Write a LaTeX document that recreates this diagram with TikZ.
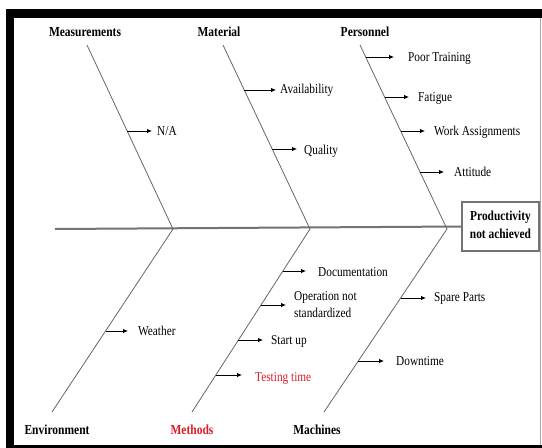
\documentclass[tikz,border=0pt]{standalone}
\usepackage{graphicx}
\usepackage{fontspec}
\setmainfont{Liberation Serif}
\usetikzlibrary{arrows.meta,calc}
\definecolor{myred}{RGB}{220,30,40}
\newcommand{\vs}[1]{\scalebox{1}[1.2]{#1}}
\tikzset{
  lbl/.style={inner sep=0pt, font=\fontsize{11.3}{14}\selectfont},
  cat/.style={inner sep=0pt, font=\fontsize{11.5}{14}\selectfont\bfseries},
  bone/.style={draw=black!60, line width=0.8pt},
  spine/.style={draw=black!55, line width=2pt},
  arr/.style={draw=black, line width=0.8pt, -{Latex[length=5pt,width=4.5pt]}},
}
\begin{document}
\begin{tikzpicture}[x=1pt,y=-1pt]
\useasboundingbox (0,0) rectangle (542,448);
% frame
\fill[black] (6,9) rectangle (542,448);
\fill[white] (14,18) rectangle (542,445);
\draw[black!35, line width=1pt] (540,18) -- (540,445);

% head
\node[draw=black!55, line width=1.2pt, minimum width=77pt, minimum height=49pt, inner sep=0pt,
      font=\fontsize{11.4}{14}\selectfont\bfseries, align=center] (head) at (500.5,226.5)
      {\vs{\begin{tabular}{@{}c@{}}Productivity\\[1pt]not achieved\end{tabular}}};

% spine
\coordinate (tail) at (55,229);
\draw[spine] (tail) -- (head.west);

% joints
\coordinate (J1) at (173,229);
\coordinate (J2) at (310,229);
\coordinate (J3) at (447,229);

% category labels
\node[cat] (meas) at (85,32) {\vs{Measurements}};
\node[cat] (mat) at (219,32) {\vs{Material}};
\node[cat] (pers) at (365,32) {\vs{Personnel}};
\node[cat] (env) at (57,430) {\vs{Environment}};
\node[cat, text=myred] (meth) at (192,430) {\vs{Methods}};
\node[cat] (mach) at (317,430) {\vs{Machines}};

% bone ends
\coordinate (M0) at (87,45);
\coordinate (A0) at (223,45);
\coordinate (P0) at (360,45);
\coordinate (E0) at (52,412);
\coordinate (T0) at (192,412);
\coordinate (C0) at (324,412);

\draw[bone] (M0) -- (J1);
\draw[bone] (A0) -- (J2);
\draw[bone] (P0) -- (J3);
\draw[bone] (E0) -- (J1);
\draw[bone] (T0) -- (J2);
\draw[bone] (C0) -- (J3);

% cause nodes
\node[lbl, anchor=west] (na) at (157,131) {\vs{N/A}};
\node[lbl, anchor=west] (avail) at (280,90) {\vs{Availability}};
\node[lbl, anchor=west] (qual) at (304,151) {\vs{Quality}};
\node[lbl, anchor=west] (poor) at (408,58) {\vs{Poor Training}};
\node[lbl, anchor=west] (fat) at (418,98) {\vs{Fatigue}};
\node[lbl, anchor=west] (work) at (434,132) {\vs{Work Assignments}};
\node[lbl, anchor=west] (att) at (454,172) {\vs{Attitude}};
\node[lbl, anchor=west] (weat) at (138,331) {\vs{Weather}};
\node[lbl, anchor=west] (doc) at (318,272) {\vs{Documentation}};
\node[lbl, anchor=west] (oper) at (294,306) {\vs{\begin{tabular}{@{}l@{}}Operation not\\standardized\end{tabular}}};
\node[lbl, anchor=west] (start) at (271,341) {\vs{Start up}};
\node[lbl, anchor=west, text=myred] (test) at (255,378) {\vs{Testing time}};
\node[lbl, anchor=west] (spare) at (434,298) {\vs{Spare Parts}};
\node[lbl, anchor=west] (down) at (396,361) {\vs{Downtime}};

% arrow starts on bones
\coordinate (cna) at (127.2,131);
\coordinate (cavail) at (244.3,90);
\coordinate (cqual) at (272.2,149);
\coordinate (cpoor) at (365.7,57);
\coordinate (cfat) at (384.6,97);
\coordinate (cwork) at (400.7,131);
\coordinate (catt) at (420,172);
\coordinate (cweat) at (105.6,331);
\coordinate (cdoc) at (282.9,271);
\coordinate (coper) at (261,305);
\coordinate (cstart) at (238.4,340);
\coordinate (ctest) at (215.9,375);
\coordinate (cspare) at (400.6,298);
\coordinate (cdown) at (358.3,361);

\draw[arr, shorten >=5pt] (cna) -- (cna -| na.west);
\draw[arr, shorten >=4pt] (cavail) -- (cavail -| avail.west);
\draw[arr, shorten >=7pt] (cqual) -- (cqual -| qual.west);
\draw[arr, shorten >=14pt] (cpoor) -- (cpoor -| poor.west);
\draw[arr, shorten >=9pt] (cfat) -- (cfat -| fat.west);
\draw[arr, shorten >=9pt] (cwork) -- (cwork -| work.west);
\draw[arr, shorten >=10pt] (catt) -- (catt -| att.west);
\draw[arr, shorten >=10pt] (cweat) -- (cweat -| weat.west);
\draw[arr, shorten >=12pt] (cdoc) -- (cdoc -| doc.west);
\draw[arr, shorten >=8pt] (coper) -- (coper -| oper.west);
\draw[arr, shorten >=8pt] (cstart) -- (cstart -| start.west);
\draw[arr, shorten >=13pt] (ctest) -- (ctest -| test.west);
\draw[arr, shorten >=8pt] (cspare) -- (cspare -| spare.west);
\draw[arr, shorten >=12pt] (cdown) -- (cdown -| down.west);
\end{tikzpicture}
\end{document}
